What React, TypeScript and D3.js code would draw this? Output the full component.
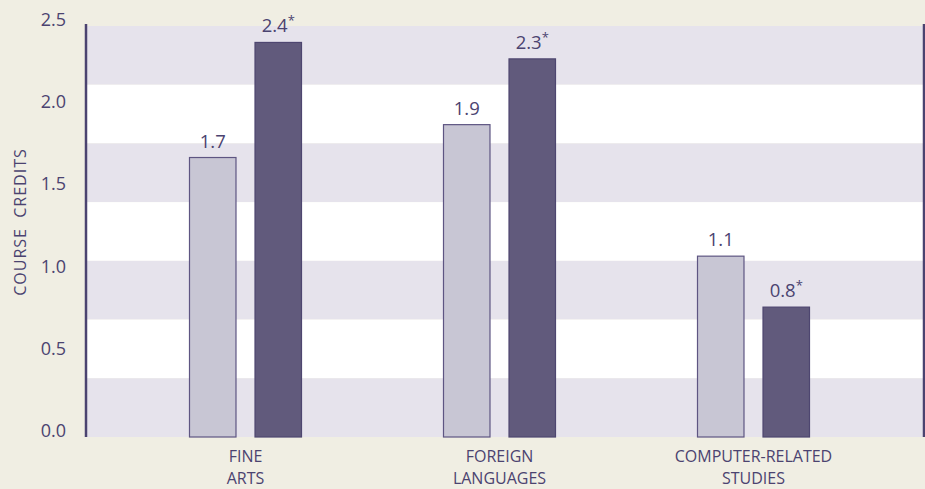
import React from "react";
import * as d3 from "d3";

const categories = ["FINE ARTS", "FOREIGN LANGUAGES", "COMPUTER-RELATED STUDIES"];
const categoryLines = [["FINE", "ARTS"], ["FOREIGN", "LANGUAGES"], ["COMPUTER-RELATED", "STUDIES"]];
const seriesNames = ["earlier", "later"];
const earlierValues = [1.7, 1.9, 1.1];
const laterValues = [2.4, 2.3, 0.79];
const laterSignificant = [true, true, true];
const yTicks = [0, 0.5, 1.0, 1.5, 2.0, 2.5];

const W = 925;
const H = 489;
const BG = "#f0eee3";
const BAND = "#e6e3ec";
const INK = "#4b4370";
const LIGHT = "#c8c6d4";
const DARK = "#615a7c";
const FONT = "'Open Sans', 'Noto Sans', sans-serif";

export default function App() {
  const plotLeft = 87;
  const plotRight = 923;
  const y = d3.scaleLinear().domain([0, 2.5]).range([437, 26]);
  const x0 = d3.scaleBand<string>().domain(categories).range([118.5, 880.5]).paddingInner(0);
  const groupW = 113;
  const x1 = d3.scaleBand<string>().domain(seriesNames).range([0, groupW]).paddingInner(0.275).paddingOuter(0);
  const nBands = 7;
  const bands = d3.range(nBands).map((i) => ({
    top: y(2.5 - (2.5 * i) / nBands),
    bottom: y(2.5 - (2.5 * (i + 1)) / nBands),
    fill: i % 2 === 0 ? BAND : "#ffffff",
  }));
  const fmt = d3.format(".1f");

  return (
    <svg width={W} height={H} style={{ position: "absolute", left: 0, top: 0, display: "block" }}>
      <rect x={0} y={0} width={W} height={H} fill={BG} />
      {bands.map((b, i) => (
        <rect key={i} x={plotLeft} y={b.top} width={plotRight - plotLeft} height={b.bottom - b.top} fill={b.fill} />
      ))}
      <line x1={86} x2={86} y1={24} y2={437} stroke={INK} strokeWidth={2.5} />
      <line x1={924} x2={924} y1={24} y2={437} stroke={INK} strokeWidth={2.5} />
      {yTicks.map((t) => (
        <text key={t} x={66} y={y(t)} textAnchor="end" fontFamily={FONT} fontSize={18} fill={INK}>
          {fmt(t)}
        </text>
      ))}
      <text
        transform={`translate(26,222) rotate(-90)`}
        textAnchor="middle"
        fontFamily={FONT}
        fontSize={16}
        letterSpacing={1}
        fill={INK}
        style={{ whiteSpace: "pre" }}
      >
        {"COURSE  CREDITS"}
      </text>
      {categories.map((c, ci) => {
        const gx = (x0(c) as number) + x0.bandwidth() / 2 - groupW / 2;
        const vals = [earlierValues[ci], laterValues[ci]];
        return (
          <g key={c}>
            {seriesNames.map((s, si) => {
              const bx = gx + (x1(s) as number);
              const bw = x1.bandwidth();
              const v = vals[si];
              return (
                <g key={s}>
                  <rect
                    x={bx + 0.5}
                    y={y(v)}
                    width={bw - 1}
                    height={y(0) - y(v)}
                    fill={si === 0 ? LIGHT : DARK}
                    stroke={si === 0 ? "#5e5582" : "#4e4670"}
                    strokeWidth={1.2}
                  />
                  <text x={bx + bw / 2} y={y(v) - 10} textAnchor="middle" fontFamily={FONT} fontSize={18.5} fill={INK}>
                    {fmt(v)}
                    {si === 1 && laterSignificant[ci] ? (
                      <tspan fontSize={13} dy={-7}>*</tspan>
                    ) : null}
                  </text>
                </g>
              );
            })}
            {categoryLines[ci].map((line, li) => (
              <text
                key={li}
                x={(x0(c) as number) + x0.bandwidth() / 2}
                y={462 + li * 22}
                textAnchor="middle"
                fontFamily={FONT}
                fontSize={16}
                fill={INK}
              >
                {line}
              </text>
            ))}
          </g>
        );
      })}
    </svg>
  );
}
